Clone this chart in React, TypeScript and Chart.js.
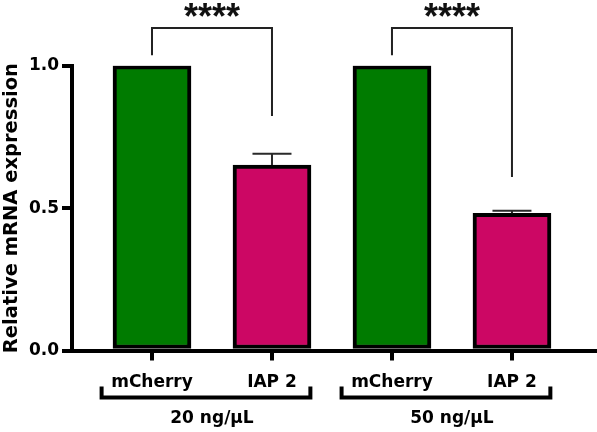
import React, { useEffect, useRef } from 'react';
import { Chart, registerables } from 'chart.js';

Chart.register(...registerables);

// Bars, left to right
const categories = ['mCherry', 'IAP 2', 'mCherry', 'IAP 2'];
const expression = [1.0, 0.651, 1.0, 0.482];
const errorUpper = [0, 0.04, 0, 0.009];
const barColors = ['#007b00', '#cc0764', '#007b00', '#cc0764'];

// Dose groups shown under the category labels
const groupLabels = ['20 ng/μL', '50 ng/μL'];
const groupMembers = [
  [0, 1],
  [2, 3],
];

// Significance brackets
const sigPairs = [
  [0, 1],
  [2, 3],
];
const sigLabels = ['****', '****'];
const sigLevel = 1.132;
const sigLegEnds = [
  [1.037, 0.823],
  [1.037, 0.609],
];

const yTicks = [0, 0.5, 1.0];

const FONT = 'DejaVu Sans';

const annotations = {
  id: 'annotations',
  afterDatasetsDraw(chart: any) {
    const { ctx } = chart;
    const x = chart.scales.x;
    const y = chart.scales.y;
    ctx.save();
    ctx.strokeStyle = '#2a2a2a';
    ctx.lineWidth = 2;
    expression.forEach((v, i) => {
      const e = errorUpper[i];
      if (!e) return;
      const cx = x.getPixelForValue(i);
      const yTop = y.getPixelForValue(v + e);
      const yBar = y.getPixelForValue(v);
      ctx.beginPath();
      ctx.moveTo(cx, yBar);
      ctx.lineTo(cx, yTop);
      ctx.moveTo(cx - 19.5, yTop);
      ctx.lineTo(cx + 19.5, yTop);
      ctx.stroke();
    });
    ctx.restore();
  },
  afterDraw(chart: any) {
    const { ctx, chartArea } = chart;
    const x = chart.scales.x;
    const y = chart.scales.y;
    ctx.save();

    // significance brackets
    ctx.strokeStyle = '#222';
    ctx.lineWidth = 2;
    ctx.lineCap = 'butt';
    sigPairs.forEach(([a, b], k) => {
      const xa = x.getPixelForValue(a);
      const xb = x.getPixelForValue(b);
      const yh = y.getPixelForValue(sigLevel);
      ctx.beginPath();
      ctx.moveTo(xa, y.getPixelForValue(sigLegEnds[k][0]));
      ctx.lineTo(xa, yh);
      ctx.lineTo(xb, yh);
      ctx.lineTo(xb, y.getPixelForValue(sigLegEnds[k][1]));
      ctx.stroke();
      ctx.fillStyle = '#111';
      ctx.font = 'bold 36px "Liberation Sans"';
      ctx.textAlign = 'center';
      ctx.textBaseline = 'alphabetic';
      ctx.fillText(sigLabels[k], (xa + xb) / 2, yh + 1);
    });

    // dose group brackets and labels
    const base = chartArea.bottom;
    ctx.strokeStyle = '#000';
    ctx.lineWidth = 4;
    ctx.lineJoin = 'miter';
    groupMembers.forEach((m, k) => {
      const first = m[0];
      const last = m[m.length - 1];
      const xl = x.getPixelForValue(first - 0.42);
      const xr = x.getPixelForValue(last + 0.32);
      ctx.beginPath();
      ctx.moveTo(xl, base + 36);
      ctx.lineTo(xl, base + 47);
      ctx.lineTo(xr, base + 47);
      ctx.lineTo(xr, base + 36);
      ctx.stroke();
      ctx.fillStyle = '#000';
      ctx.font = `bold 17px "${FONT}"`;
      ctx.textAlign = 'center';
      ctx.textBaseline = 'alphabetic';
      const cx = (x.getPixelForValue(first) + x.getPixelForValue(last)) / 2;
      ctx.fillText(groupLabels[k], cx, base + 72.5);
    });
    ctx.restore();
  },
};

export default function App() {
  const canvasRef = useRef<HTMLCanvasElement | null>(null);

  useEffect(() => {
    if (!canvasRef.current) return;
    const chart = new Chart(canvasRef.current, {
      type: 'bar',
      data: {
        datasets: [
          {
            data: expression.map((v, i) => ({ x: i, y: v })),
            backgroundColor: barColors,
            borderColor: '#000',
            borderWidth: 4,
            borderSkipped: false,
            barThickness: 78,
          },
        ],
      },
      options: {
        animation: false,
        responsive: true,
        maintainAspectRatio: false,
        layout: { padding: { top: 65.7, right: 2, left: 0, bottom: 0 } },
        plugins: {
          legend: { display: false },
          tooltip: { enabled: false },
        },
        scales: {
          x: {
            type: 'linear',
            offset: false,
            min: -0.6667,
            max: 3.692,
            afterBuildTicks: (scale: any) => {
              scale.ticks = categories.map((_, i) => ({ value: i }));
            },
            afterFit: (scale: any) => {
              scale.height = 81.5;
            },
            ticks: {
              autoSkip: false,
              maxRotation: 0,
              padding: 12,
              color: '#000',
              font: { family: FONT, size: 17, weight: 'bold' },
              callback: (v: any) => categories[Math.round(Number(v))] ?? '',
            },
            grid: {
              offset: false,
              drawOnChartArea: false,
              drawTicks: true,
              tickLength: 10,
              lineWidth: 4,
              color: '#000',
            },
            border: { display: true, width: 4, color: '#000' },
          },
          y: {
            min: 0,
            max: 1,
            afterBuildTicks: (scale: any) => {
              scale.ticks = yTicks.map((v) => ({ value: v }));
            },
            afterFit: (scale: any) => {
              scale.width = 72;
            },
            ticks: {
              padding: 3,
              color: '#000',
              font: { family: FONT, size: 17, weight: 'bold' },
              callback: (v: any) => Number(v).toFixed(1),
            },
            grid: {
              drawOnChartArea: false,
              drawTicks: true,
              tickLength: 10,
              lineWidth: 4,
              color: '#000',
            },
            border: { display: true, width: 4, color: '#000' },
            title: {
              display: true,
              text: 'Relative mRNA expression',
              color: '#000',
              padding: 0,
              font: { family: FONT, size: 19.5, weight: 'bold' },
            },
          },
        },
      },
      plugins: [annotations],
    });
    return () => chart.destroy();
  }, []);

  return (
    <div style={{ position: 'absolute', left: 0, top: 0, width: 597, height: 432, background: '#fff' }}>
      <canvas ref={canvasRef} />
    </div>
  );
}
